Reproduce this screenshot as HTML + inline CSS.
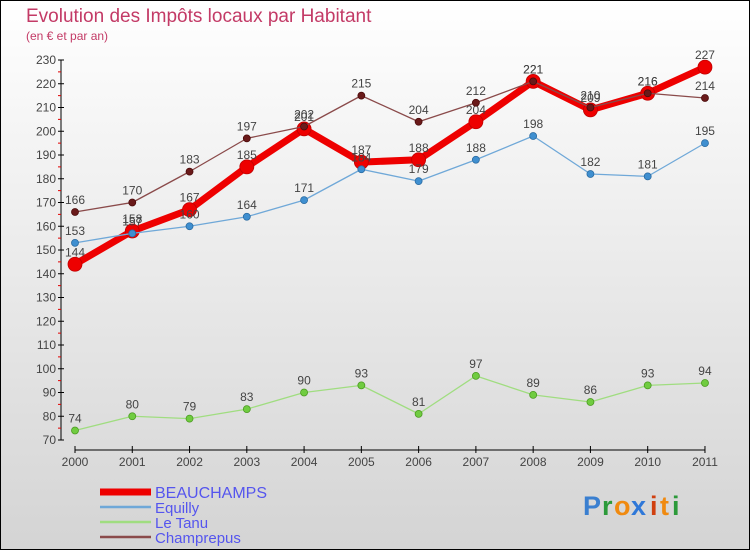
<!DOCTYPE html>
<html><head><meta charset="utf-8"><style>
html,body{margin:0;padding:0}
body{width:750px;height:550px;overflow:hidden;font-family:"Liberation Sans",sans-serif}
</style></head><body>
<svg id="chart" width="750" height="550" xmlns="http://www.w3.org/2000/svg" font-family="Liberation Sans, sans-serif">
<defs><linearGradient id="bg" x1="0" y1="0" x2="0" y2="1"><stop offset="0" stop-color="#ffffff"/><stop offset="1" stop-color="#d4d4d4"/></linearGradient></defs>
<rect x="0.5" y="0.5" width="749" height="549" fill="url(#bg)" stroke="#000"/>
<text x="26" y="22" font-size="19" fill="#c33a66">Evolution des Impôts locaux par Habitant</text>
<text x="26" y="40" font-size="12" fill="#c33a66">(en € et par an)</text>
<g id="axes"></g>
<g id="series"></g>
<g id="legend"></g>
<g font-size="27" font-weight="bold">
<text x="583" y="515" fill="#3a7fd0">P</text><text x="602" y="515" fill="#2c9a3a">r</text><text x="614" y="515" fill="#f08a10">o</text><text x="631" y="515" fill="#2f78d8">x</text><text x="650" y="515" fill="#d04010">i</text><text x="660" y="515" fill="#f08a10">t</text><text x="672" y="515" fill="#2c9a3a">i</text>
</g>
</svg>
<script>
const years = ["2000","2001","2002","2003","2004","2005","2006","2007","2008","2009","2010","2011"];
const beauchamps = [144,158,167,185,201,187,188,204,221,209,216,227];
const equilly = [153,157,160,164,171,184,179,188,198,182,181,195];
const leTanu = [74,80,79,83,90,93,81,97,89,86,93,94];
const champrepus = [166,170,183,197,202,215,204,212,221,210,216,214];
const yTicks = [70,80,90,100,110,120,130,140,150,160,170,180,190,200,210,220,230];

const NS="http://www.w3.org/2000/svg";
const X0=75, XSTEP=57.27, Y70=440, PXU=2.375;
const xPos=i=>X0+i*XSTEP;
const yPos=v=>Y70-(v-70)*PXU;
function mk(tag,attrs,parent){const e=document.createElementNS(NS,tag);for(const k in attrs)e.setAttribute(k,attrs[k]);parent.appendChild(e);return e;}
const axes=document.getElementById('axes');
let e;
e=mk('line',{x1:61,y1:yPos(230),x2:61,y2:yPos(70),stroke:'#000','stroke-width':1},axes);


e=mk('line',{x1:75,y1:450,x2:705,y2:450,stroke:'#000','stroke-width':1},axes);


yTicks.forEach((v,i)=>{
  mk('line',{x1:58,y1:yPos(v),x2:64,y2:yPos(v),stroke:'#000'},axes);
  if(i<yTicks.length-1) mk('line',{x1:58,y1:yPos(v+5),x2:61,y2:yPos(v+5),stroke:'#e00000'},axes);
  const t=mk('text',{x:56,y:yPos(v)+4,'text-anchor':'end','font-size':12,fill:'#444'},axes);
  t.textContent=v;
  
  
});
years.forEach((y,i)=>{
  mk('line',{x1:xPos(i),y1:446,x2:xPos(i),y2:453,stroke:'#000'},axes);
  const t=mk('text',{x:xPos(i),y:466,'text-anchor':'middle','font-size':12,fill:'#444'},axes);
  t.textContent=y;
  
  
});
const series=[
  {name:'beauchamps',label:'BEAUCHAMPS',data:beauchamps,color:'#ee0000',w:7,r:7,dot:'#ee0000',ds:'#c00000'},
  {name:'equilly',label:'Equilly',data:equilly,color:'#6fa8d8',w:1.3,r:3.5,dot:'#3f8fd0',ds:'#2a6aa0'},
  {name:'le-tanu',label:'Le Tanu',data:leTanu,color:'#a0dd80',w:1.3,r:3.5,dot:'#70cc40',ds:'#4a9a20'},
  {name:'champrepus',label:'Champrepus',data:champrepus,color:'#8a4a4a',w:1.3,r:3.5,dot:'#6a1a1a',ds:'#4a0a0a'}
];
const sg=document.getElementById('series');
series.forEach(s=>{
  const g=mk('g',{},sg);
  
  
  const pts=s.data.map((v,i)=>xPos(i)+','+yPos(v)).join(' ');
  const pl=mk('polyline',{points:pts,fill:'none',stroke:s.color,'stroke-width':s.w,'stroke-linejoin':'round'},g);
  
  
  s.data.forEach((v,i)=>{
    const c=mk('circle',{cx:xPos(i),cy:yPos(v),r:s.r,fill:s.dot,stroke:s.ds,'stroke-width':0.8},g);
    
    
    const t=mk('text',{x:xPos(i),y:yPos(v)-8,'text-anchor':'middle','font-size':12,fill:'#444'},g);
    t.textContent=v;
    
    
  });
});
const lg=document.getElementById('legend');
series.forEach((s,i)=>{
  const y=492+i*15;
  const g=mk('g',{},lg);
  
  
  mk('line',{x1:100,y1:y,x2:151,y2:y,stroke:s.color,'stroke-width':i==0?7:2.5},g);
  const t=mk('text',{x:155,y:y+6,'font-size':i==0?16:15,fill:'#5555ee'},g);
  t.textContent=s.label;
});
</script>
</body></html>
